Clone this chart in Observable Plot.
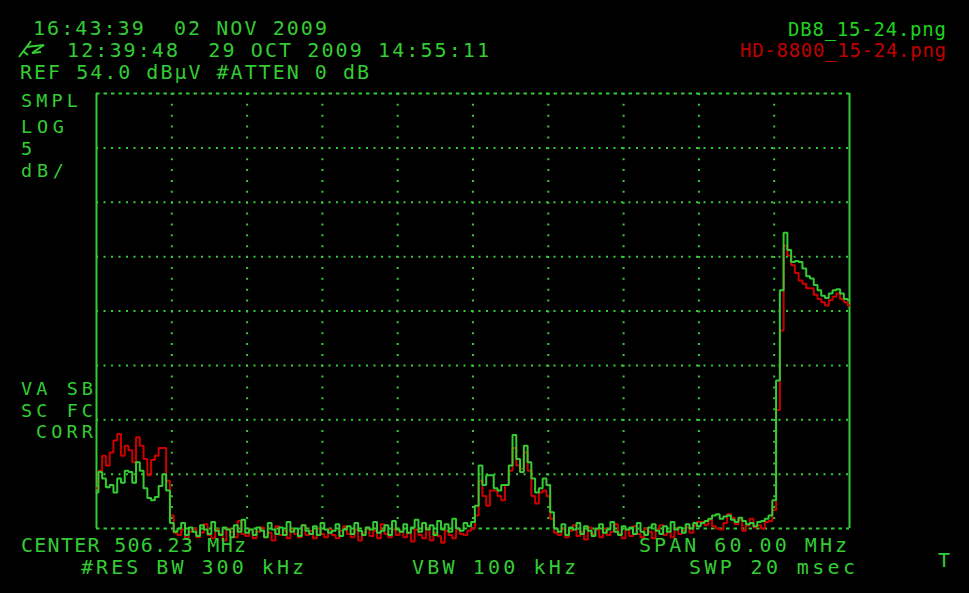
<!DOCTYPE html>
<html><head><meta charset="utf-8">
<script src="https://cdn.jsdelivr.net/npm/d3@7"></script>
<script src="https://cdn.jsdelivr.net/npm/@observablehq/plot@0.6"></script>
<style>
html,body{margin:0;padding:0;background:#000;}
#chart{position:relative;width:969px;height:593px;overflow:hidden;background:#000;}
</style></head><body><div id="chart"></div>
<script>
// ---- instrument settings ----
const centerMHz = 506.23;
const spanMHz = 60;
const refLevel = 54;      // dBµV (top of screen)
const dBPerDiv = 5;
const divisionsY = 8;
const divisionsX = 10;
const sweepPoints = 201;

// ---- traces (dBµV), one value per sweep point ----
const db8Trace = [
  17.3,19.2,18.6,17.8,18.0,17.3,18.6,18.2,19.3,19.2,18.2,20.1,19.3,17.7,16.8,16.6,16.9,17.9,19.0,17.5,14.5,13.7,
  14.0,14.5,13.4,14.1,13.7,13.3,14.3,13.9,13.5,14.6,13.8,13.4,14.1,13.9,13.2,14.3,13.7,14.8,13.6,13.9,
  13.4,14.1,13.8,13.2,14.5,13.9,13.5,14.1,13.4,14.6,13.7,14.0,13.3,14.3,13.8,13.5,14.2,13.4,14.5,13.9,
  13.6,13.8,14.4,13.3,13.9,14.2,13.5,14.5,13.8,13.4,14.1,13.9,14.6,13.6,13.8,14.3,13.4,14.7,13.9,13.7,
  14.4,13.6,14.1,14.8,13.7,14.5,13.9,14.3,13.4,14.7,13.9,14.4,13.7,14.9,14.0,13.8,14.5,14.2,
  14.6,16.1,19.8,18.0,18.9,18.9,17.7,17.5,18.0,18.0,19.8,22.6,20.4,19.2,21.6,20.1,18.6,17.3,17.7,18.6,18.0,15.5,14.0,
  13.7,14.4,13.4,14.1,13.9,14.5,13.5,14.2,13.8,13.3,14.0,14.4,13.6,13.9,14.6,13.7,13.4,14.2,13.9,14.1,
  13.5,14.5,13.7,13.4,14.1,14.4,13.8,13.5,14.2,13.7,14.6,13.9,14.1,13.6,14.4,14.0,14.5,14.2,
  14.5,14.7,14.9,15.2,15.3,14.9,15.1,15.2,14.8,14.6,15.0,14.7,14.4,14.5,14.2,14.6,14.7,14.9,15.2,16.6,
  27.6,35.9,41.2,39.6,38.5,38.6,38.5,37.9,37.2,37.0,36.4,35.9,35.4,35.2,35.6,35.9,36.0,35.6,35.1,35.0
];
const hd8800Trace = [
  17.7,19.3,20.7,19.8,21.0,22.1,22.7,20.7,21.6,21.2,20.1,22.4,21.6,20.4,18.9,20.3,20.7,21.4,21.4,18.4,15.2,13.6,
  13.4,13.9,13.1,13.7,14.0,13.2,13.6,14.4,13.4,13.1,13.9,13.5,12.9,14.0,13.7,13.2,14.7,13.5,13.3,13.9,
  13.1,13.7,14.1,13.2,13.6,12.9,14.2,13.4,13.8,13.1,13.9,13.5,13.2,14.3,13.4,13.8,13.1,14.0,13.5,13.2,
  13.9,13.4,13.1,13.8,14.2,13.5,13.2,13.9,12.9,13.6,14.1,13.3,13.8,13.1,14.4,13.5,13.2,13.9,13.4,13.7,
  13.2,13.6,12.8,13.9,13.4,13.1,14.0,12.9,13.6,13.3,12.7,13.8,13.4,13.1,13.9,13.5,13.4,13.8,
  14.0,15.2,18.4,17.0,16.1,17.5,17.5,17.0,16.6,18.0,19.3,21.4,19.8,19.5,21.0,19.3,17.0,16.3,17.3,17.5,17.0,14.9,13.6,
  13.4,14.0,13.2,13.8,14.3,13.3,13.7,13.0,14.1,13.5,13.9,13.2,14.0,13.4,13.7,14.4,13.5,13.1,13.9,13.3,
  14.2,13.5,13.2,14.0,13.7,13.1,13.9,14.3,13.4,13.7,13.2,14.0,13.5,13.8,14.1,13.6,14.3,14.6,
  14.6,14.3,14.8,14.2,14.0,13.9,14.5,15.3,15.0,14.4,14.8,13.8,14.3,14.9,14.1,14.3,14.0,14.6,14.7,15.7,
  24.9,32.2,40.0,39.1,38.2,37.5,36.8,36.5,36.1,36.1,35.5,35.1,34.8,34.5,35.0,35.3,35.6,35.1,34.8,34.5
];
const seriesNames = ["DB8_15-24.png", "HD-8800_15-24.png"];

// ---- screen annotation texts ----
const headerLines = ["16:43:39  02 NOV 2009", "12:39:48  29 OCT 2009 14:55:11", "REF 54.0 dB\u00b5V #ATTEN 0 dB"];
const sideLabels = ["SMPL", "LOG", "5", "dB/", "VA SB", "SC FC", "CORR"];
const footerLabels = ["CENTER 506.23 MHz", "SPAN 60.00 MHz", "#RES BW 300 kHz", "VBW 100 kHz", "SWP 20 msec", "T"];

// ---- derived ----
const fStart = centerMHz - spanMHz / 2;
const fEnd = centerMHz + spanMHz / 2;
const fStep = spanMHz / (sweepPoints - 1);
const bottomLevel = refLevel - dBPerDiv * divisionsY;
const gridX = d3.range(1, divisionsX).map(k => fStart + k * spanMHz / divisionsX);
const gridY = d3.range(1, divisionsY).map(k => bottomLevel + k * dBPerDiv);

const GREEN = "#33cc33", RED = "#cc0000";

const chart = Plot.plot({
  width: 969, height: 593,
  marginLeft: 96, marginRight: 120, marginTop: 93, marginBottom: 65,
  style: {background: "#000", color: GREEN},
  x: {domain: [fStart, fEnd], axis: null},
  y: {domain: [bottomLevel, refLevel], axis: null},
  marks: [
    Plot.ruleX(gridX, {stroke: GREEN, strokeWidth: 2, strokeDasharray: "2,8.87"}),
    Plot.ruleY(gridY, {stroke: GREEN, strokeWidth: 2, strokeDasharray: "2,5.5"}),
    Plot.ruleY([bottomLevel, refLevel], {stroke: GREEN, strokeWidth: 2, strokeDasharray: "3.5,4"}),
    Plot.ruleX([fStart, fEnd], {stroke: GREEN, strokeWidth: 2}),
    Plot.line(hd8800Trace, {x: (d, i) => fStart + i * fStep, y: d => d, stroke: RED, strokeWidth: 2, curve: "step", strokeLinejoin: "miter"}),
    Plot.line(db8Trace, {x: (d, i) => fStart + i * fStep, y: d => d, stroke: GREEN, strokeWidth: 2, curve: "step", strokeLinejoin: "miter"})
  ]
});
document.getElementById("chart").appendChild(chart);

// ---- screen text layout (pixels) ----
const svg = d3.select(chart);
const g = svg.append("g")
  .attr("font-family", "'DejaVu Sans Mono', monospace")
  .attr("font-size", 20)
  .attr("fill", GREEN)
  .attr("text-anchor", "start")
  .style("white-space", "pre");

function put(text, x, y, w, fs) {
  const t = g.append("text").attr("x", x).attr("y", y).text(text);
  if (w) t.attr("textLength", w).attr("lengthAdjust", "spacing");
  if (fs) t.attr("font-size", fs);
  return t;
}
const headerLayout = [[33, 35, 294], [67, 57, 422], [20, 79, 349]];
headerLines.forEach((s, i) => put(s, ...headerLayout[i]));
const sideLayout = [[21, 107, 57], [21, 133, 43], [21, 155, 0], [21, 177, 43], [21, 395, 72], [21, 417, 72], [36, 438, 57]];
sideLabels.forEach((s, i) => put(s, ...sideLayout[i], 18.5));
const footerLayout = [[21, 552, 225], [639, 552, 208], [81, 574, 223], [412, 574, 164], [689, 574, 166], [938, 567, 0]];
footerLabels.forEach((s, i) => put(s, ...footerLayout[i]));

// stylus glyph
g.append("path").attr("d", "M19,57 L31,41 M26,47 L44,45 L32,53 L41,52 M23,51 L28,55")
  .attr("fill", "none").attr("stroke", GREEN).attr("stroke-width", 2);

// legend (file names)
const lg = svg.append("g").attr("font-family", "'DejaVu Sans Mono', monospace").attr("font-size", 19).attr("text-anchor", "end");
lg.append("text").attr("x", 946).attr("y", 36).attr("fill", "#1ed21e").attr("textLength", 158).attr("lengthAdjust", "spacing").text(seriesNames[0]);
lg.append("text").attr("x", 946).attr("y", 57).attr("fill", "#c00000").attr("textLength", 206).attr("lengthAdjust", "spacing").text(seriesNames[1]);
</script></body></html>
